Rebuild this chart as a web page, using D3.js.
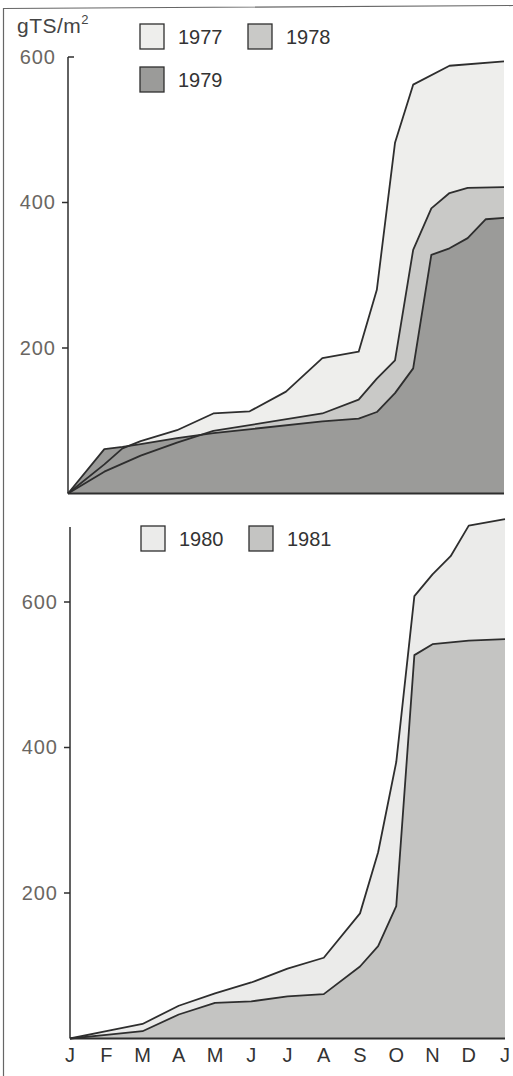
<!DOCTYPE html>
<html>
<head>
    <meta charset="utf-8">
    <style>
        html, body {
            margin: 0;
            padding: 0;
            background: #fff;
        }

        svg text {
            font-family: "Liberation Sans", Arial, sans-serif;
        }
    </style>
</head>
<body>
<div id="chart"></div>

<script src="https://cdn.jsdelivr.net/npm/d3@7/dist/d3.min.js"></script>
<script>
    "use strict";

    const WIDTH = 513;
    const HEIGHT = 1076;

    // month labels along the bottom axis (Jan .. Jan)
    const monthLabels = ["J", "F", "M", "A", "M", "J", "J", "A", "S", "O", "N", "D", "J"];
    const yTicksTop = [200, 400, 600];
    const yTicksBottom = [200, 400, 600];

    // cumulative values, gTS/m2; month position 0 = 1 Jan, 12 = 1 Jan next year
    const months1977 = [0, 1, 1.5, 2, 3, 4, 5, 6, 7, 8, 8.5, 9, 9.5, 10.5, 12];
    const values1977 = [0, 40, 62, 72, 87, 110, 113, 140, 186, 195, 280, 482, 562, 588, 594];

    const months1978 = [0, 1, 2, 3, 4, 7, 8, 8.5, 9, 9.5, 10, 10.5, 11, 12];
    const values1978 = [0, 30, 52, 70, 86, 110, 129, 158, 183, 335, 392, 413, 420, 421];

    const months1979 = [0, 1, 1.5, 2, 3, 4, 7, 8, 8.5, 9, 9.5, 10, 10.5, 11, 11.5, 12];
    const values1979 = [0, 61, 64, 68, 76, 83, 99, 103, 112, 138, 172, 328, 337, 351, 377, 379];

    const months1980 = [0, 1, 2, 3, 4, 5, 6, 7, 8, 8.5, 9, 9.5, 10, 10.5, 11, 12];
    const values1980 = [0, 10, 20, 45, 62, 77, 96, 111, 172, 256, 380, 608, 638, 663, 705, 714];

    const months1981 = [0, 1, 2, 3, 4, 5, 6, 7, 8, 8.5, 9, 9.5, 10, 11, 12];
    const values1981 = [0, 5, 10, 33, 49, 51, 58, 61, 99, 127, 182, 527, 542, 547, 549];

    const LINE_COLOR = "#2e2e2e";
    const TICK_TEXT = "#6a6662";

    function zip(months, values) {
        return months.map(function (m, i) {
            return {m: m, v: values[i]};
        });
    }

    const svg = d3.select("#chart").append("svg")
        .attr("width", WIDTH)
        .attr("height", HEIGHT);

    // scanned page frame
    svg.append("path")
        .attr("d", "M3.5,1076 V8.5 L513,5.5")
        .attr("fill", "none")
        .attr("stroke", "#666")
        .attr("stroke-width", 1.2);

    function drawPanel(opts) {
        const x = d3.scaleLinear().domain([0, 12]).range([opts.left, opts.right]);
        const y = d3.scaleLinear().domain([0, opts.yMax]).range([opts.bottom, opts.top]);
        const g = svg.append("g");

        const area = d3.area()
            .x(function (d) { return x(d.m); })
            .y0(y(0))
            .y1(function (d) { return y(d.v); });

        const line = d3.line()
            .x(function (d) { return x(d.m); })
            .y(function (d) { return y(d.v); });

        opts.series.forEach(function (s) {
            g.append("path")
                .datum(zip(s.months, s.values))
                .attr("d", area)
                .attr("fill", s.color);
        });

        opts.series.forEach(function (s) {
            g.append("path")
                .datum(zip(s.months, s.values))
                .attr("d", line)
                .attr("fill", "none")
                .attr("stroke", LINE_COLOR)
                .attr("stroke-width", 1.8)
                .attr("stroke-linejoin", "round");
        });

        // baseline
        g.append("line")
            .attr("x1", x(0)).attr("x2", x(12))
            .attr("y1", y(0)).attr("y2", y(0))
            .attr("stroke", LINE_COLOR)
            .attr("stroke-width", 1.8);

        // y axis
        g.append("line")
            .attr("x1", x(0)).attr("x2", x(0))
            .attr("y1", opts.axisTop).attr("y2", y(0))
            .attr("stroke", LINE_COLOR)
            .attr("stroke-width", 1.5);

        opts.ticks.forEach(function (t) {
            const capRight = opts.capTick && t === opts.yMax;
            g.append("line")
                .attr("x1", x(0)).attr("x2", capRight ? x(0) + 6 : x(0) - 6)
                .attr("y1", y(t)).attr("y2", y(t))
                .attr("stroke", LINE_COLOR)
                .attr("stroke-width", 1.5);
            g.append("text")
                .attr("x", x(0) - 12)
                .attr("y", y(t))
                .attr("dy", "0.33em")
                .attr("text-anchor", "end")
                .attr("font-size", "20px")
                .attr("letter-spacing", "1px")
                .attr("fill", TICK_TEXT)
                .text(t);
        });

        // legend
        opts.series.forEach(function (s) {
            g.append("rect")
                .attr("x", s.legendX)
                .attr("y", s.legendY)
                .attr("width", 24)
                .attr("height", 25)
                .attr("fill", s.color)
                .attr("stroke", LINE_COLOR)
                .attr("stroke-width", 1.3);
            g.append("text")
                .attr("x", s.legendX + 38)
                .attr("y", s.legendY + 20)
                .attr("font-size", "20px")
                .attr("fill", "#333")
                .text(s.name);
        });

        return x;
    }

    drawPanel({
        left: 68, right: 504, top: 57, bottom: 493.5, axisTop: 57,
        yMax: 600, ticks: yTicksTop, capTick: true,
        series: [
            {name: "1977", months: months1977, values: values1977, color: "#eeeeec", legendX: 140, legendY: 24},
            {name: "1978", months: months1978, values: values1978, color: "#c9c9c7", legendX: 248, legendY: 24},
            {name: "1979", months: months1979, values: values1979, color: "#9b9b99", legendX: 140, legendY: 67}
        ]
    });

    const xBottom = drawPanel({
        left: 70, right: 505, top: 1038.5 - 600 * 0.7275, bottom: 1038.5, axisTop: 527,
        yMax: 600, ticks: yTicksBottom, capTick: false,
        series: [
            {name: "1980", months: months1980, values: values1980, color: "#ebebea", legendX: 141, legendY: 526},
            {name: "1981", months: months1981, values: values1981, color: "#c4c4c2", legendX: 249, legendY: 526}
        ]
    });

    // y unit label
    const unit = svg.append("text")
        .attr("x", 17)
        .attr("y", 33)
        .attr("font-size", "21px")
        .attr("letter-spacing", "0.5px")
        .attr("fill", "#444")
        .text("gTS/m");
    unit.append("tspan")
        .attr("font-size", "13px")
        .attr("dy", "-9")
        .text("2");

    // month labels
    svg.append("g").selectAll("text")
        .data(monthLabels)
        .enter()
        .append("text")
        .attr("x", function (d, i) { return xBottom(i); })
        .attr("y", 1062)
        .attr("text-anchor", "middle")
        .attr("font-size", "20px")
        .attr("fill", "#333")
        .text(function (d) { return d; });
</script>
</body>
</html>
